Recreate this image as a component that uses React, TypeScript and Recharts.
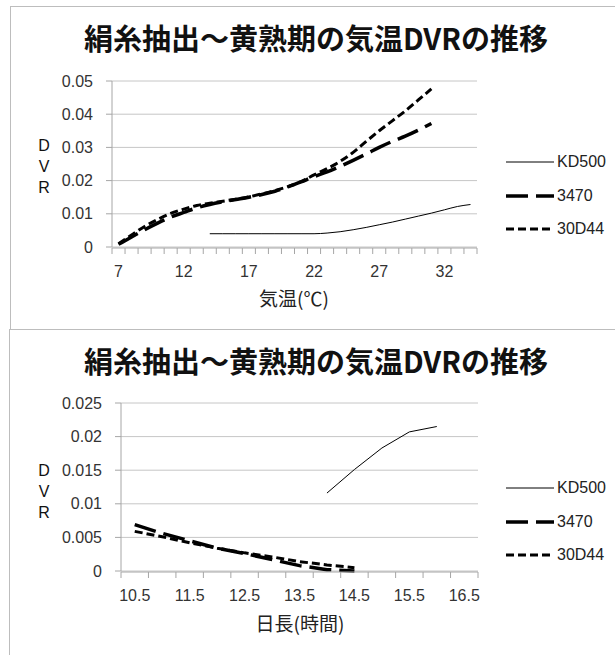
import React from 'react';
import { LineChart, Line, XAxis, YAxis, CartesianGrid } from 'recharts';

const TITLE = '絹糸抽出～黄熟期の気温DVRの推移';
const seriesNames = ['KD500', '3470', '30D44'];

// chart 1: DVR vs temperature
const tempCategories = [7, 8, 9, 10, 11, 12, 13, 14, 15, 16, 17, 18, 19, 20, 21, 22, 23, 24, 25, 26, 27, 28, 29, 30, 31, 32, 33, 34];
const tempKD500 = [null, null, null, null, null, null, null, 0.004, 0.004, 0.004, 0.004, 0.004, 0.004, 0.004, 0.004, 0.004, 0.0042, 0.0046, 0.0052, 0.0059, 0.0067, 0.0075, 0.0084, 0.0093, 0.0102, 0.0112, 0.0122, 0.0128];
const temp3470 = [0.0008, 0.003, 0.0052, 0.0072, 0.009, 0.0104, 0.0118, 0.0128, 0.0136, 0.0143, 0.015, 0.0158, 0.0168, 0.0181, 0.0196, 0.0212, 0.0226, 0.0243, 0.0261, 0.028, 0.03, 0.0318, 0.0334, 0.0352, 0.0372, null, null, null];
const temp30D44 = [0.001, 0.0036, 0.0062, 0.0083, 0.0101, 0.0114, 0.0125, 0.0132, 0.0138, 0.0144, 0.0151, 0.016, 0.017, 0.0182, 0.0197, 0.0217, 0.0236, 0.0258, 0.0285, 0.0318, 0.035, 0.038, 0.041, 0.0443, 0.0476, null, null, null];
const tempLabelTicks = [7, 12, 17, 22, 27, 32];
const tempDvrTicks = [0, 0.01, 0.02, 0.03, 0.04, 0.05];

// chart 2: DVR vs day length
const dayCategories = [10.5, 11, 11.5, 12, 12.5, 13, 13.5, 14, 14.5, 15, 15.5, 16, 16.5];
const dayKD500 = [null, null, null, null, null, null, null, 0.0116, 0.0151, 0.0183, 0.0207, 0.0215, null];
const day3470 = [0.0069, 0.0056, 0.0045, 0.0034, 0.0026, 0.0017, 0.0008, 0.0002, 0, null, null, null, null];
const day30D44 = [0.0059, 0.0051, 0.0042, 0.0034, 0.0027, 0.0021, 0.0014, 0.0009, 0.0005, null, null, null, null];
const dayLabelTicks = [10.5, 11.5, 12.5, 13.5, 14.5, 15.5, 16.5];
const dayDvrTicks = [0, 0.005, 0.01, 0.015, 0.02, 0.025];

const AXIS = '#a6a6a6';
const GRID = '#c6c6c6';
const TEXT = '#333';
const LATIN = '"Liberation Sans", Arial, sans-serif';
const CJK = '"Noto Sans CJK JP", sans-serif';

const seriesStyle: Record<string, { width: number; dash?: string }> = {
  KD500: { width: 1 },
  '3470': { width: 3.5, dash: '22 8' },
  '30D44': { width: 3, dash: '8 4' },
};

function buildRows(cats: number[], a: (number | null)[], b: (number | null)[], c: (number | null)[]) {
  return cats.map((x, i) => ({ x, KD500: a[i], '3470': b[i], '30D44': c[i] }));
}

type PanelProps = {
  boxLeft: number;
  boxTop: number;
  boxHeight: number;
  titleY: number;
  chartTop: number;
  chartHeight: number;
  margin: { top: number; right: number; bottom: number; left: number };
  cats: number[];
  rows: any[];
  labelTicks: number[];
  dvrTicks: number[];
  fmt: (v: number) => string;
  curve: 'monotone' | 'linear';
  dvrTop: number;
  xTitle: string;
  xTitleX: number;
  xTitleY: number;
  legendTop: number;
};

function Panel(p: PanelProps) {
  const step = p.cats[1] - p.cats[0];
  const domain = [p.cats[0] - step / 2, p.cats[p.cats.length - 1] + step / 2];
  const boundaries = [...p.cats.map((c) => c - step / 2), p.cats[p.cats.length - 1] + step / 2];
  const yMax = p.dvrTicks[p.dvrTicks.length - 1];

  return (
    <>
      <div style={{ position: 'absolute', left: p.boxLeft, top: p.boxTop, width: 620, height: p.boxHeight, border: '1px solid #bdbdbd', boxSizing: 'border-box' }} />
      <div style={{ position: 'absolute', left: 0, top: p.titleY - 14.5, width: 632, textAlign: 'center', fontFamily: CJK, fontWeight: 700, fontSize: 29, lineHeight: '29px', color: '#111' }}>
        {TITLE}
      </div>
      <div style={{ position: 'absolute', left: 0, top: p.chartTop }}>
        <LineChart width={615} height={p.chartHeight} data={p.rows} margin={p.margin} style={{ fontFamily: LATIN }}>
          <CartesianGrid vertical={false} stroke={GRID} />
          {/* tick marks sit on the category boundaries, like an Excel category axis */}
          <XAxis
            xAxisId="marks"
            type="number"
            dataKey="x"
            domain={domain}
            ticks={boundaries}
            interval={0}
            height={1}
            tickFormatter={() => ''}
            tickSize={6}
            axisLine={{ stroke: AXIS }}
            tickLine={{ stroke: AXIS }}
          />
          <XAxis
            type="number"
            dataKey="x"
            domain={domain}
            ticks={p.labelTicks}
            interval={0}
            height={1}
            axisLine={false}
            tickLine={false}
            tickSize={5}
            tickMargin={14}
            tickFormatter={p.fmt}
            tick={{ fontSize: 16, fill: TEXT, fontFamily: LATIN }}
          />
          <YAxis
            domain={[0, yMax]}
            ticks={p.dvrTicks}
            interval={0}
            width={60}
            axisLine={{ stroke: AXIS }}
            tickLine={{ stroke: AXIS }}
            tickSize={6}
            tickMargin={13}
            tick={{ fontSize: 16, fill: TEXT, fontFamily: LATIN }}
          />
          {seriesNames.map((name) => (
            <Line
              key={name}
              type={p.curve}
              dataKey={name}
              stroke="#000"
              strokeWidth={seriesStyle[name].width}
              strokeDasharray={seriesStyle[name].dash}
              dot={false}
              activeDot={false}
              connectNulls={false}
              isAnimationActive={false}
            />
          ))}
        </LineChart>
      </div>
      <div style={{ position: 'absolute', left: 34, top: p.dvrTop - 10.5, width: 20, textAlign: 'center', fontFamily: LATIN, fontSize: 16, lineHeight: '21px', color: '#111' }}>
        <div>D</div>
        <div>V</div>
        <div>R</div>
      </div>
      <div style={{ position: 'absolute', left: p.xTitleX - 70, top: p.xTitleY - 10, width: 140, textAlign: 'center', fontFamily: CJK, fontSize: 19, lineHeight: '20px', color: '#222' }}>
        {p.xTitle}
      </div>
      <div style={{ position: 'absolute', left: 506, top: p.legendTop - 16.8 }}>
        {seriesNames.map((name) => (
          <div key={name} style={{ display: 'flex', alignItems: 'center', height: 33.6 }}>
            <svg width={48} height={10}>
              <line x1={0} y1={5} x2={48} y2={5} stroke="#000" strokeWidth={seriesStyle[name].width} strokeDasharray={seriesStyle[name].dash} />
            </svg>
            <span style={{ marginLeft: 3, fontFamily: LATIN, fontSize: 16, color: '#222' }}>{name}</span>
          </div>
        ))}
      </div>
    </>
  );
}

export default function App() {
  return (
    <div style={{ position: 'absolute', left: 0, top: 0, width: 615, height: 655, background: '#fff', overflow: 'hidden' }}>
      <Panel
        boxLeft={10}
        boxTop={6}
        boxHeight={324}
        titleY={37.5}
        chartTop={0}
        chartHeight={329}
        margin={{ top: 81, right: 138, bottom: 80, left: 52 }}
        cats={tempCategories}
        rows={buildRows(tempCategories, tempKD500, temp3470, temp30D44)}
        labelTicks={tempLabelTicks}
        dvrTicks={tempDvrTicks}
        fmt={(v) => String(v)}
        curve="monotone"
        dvrTop={145}
        xTitle="気温(℃)"
        xTitleX={294}
        xTitleY={298}
        legendTop={162}
      />
      <Panel
        boxLeft={9}
        boxTop={329}
        boxHeight={340}
        titleY={360}
        chartTop={323}
        chartHeight={332}
        margin={{ top: 80, right: 137, bottom: 82, left: 61 }}
        cats={dayCategories}
        rows={buildRows(dayCategories, dayKD500, day3470, day30D44)}
        labelTicks={dayLabelTicks}
        dvrTicks={dayDvrTicks}
        fmt={(v) => v.toFixed(1)}
        curve="linear"
        dvrTop={470}
        xTitle="日長(時間)"
        xTitleX={300}
        xTitleY={623}
        legendTop={488}
      />
    </div>
  );
}
